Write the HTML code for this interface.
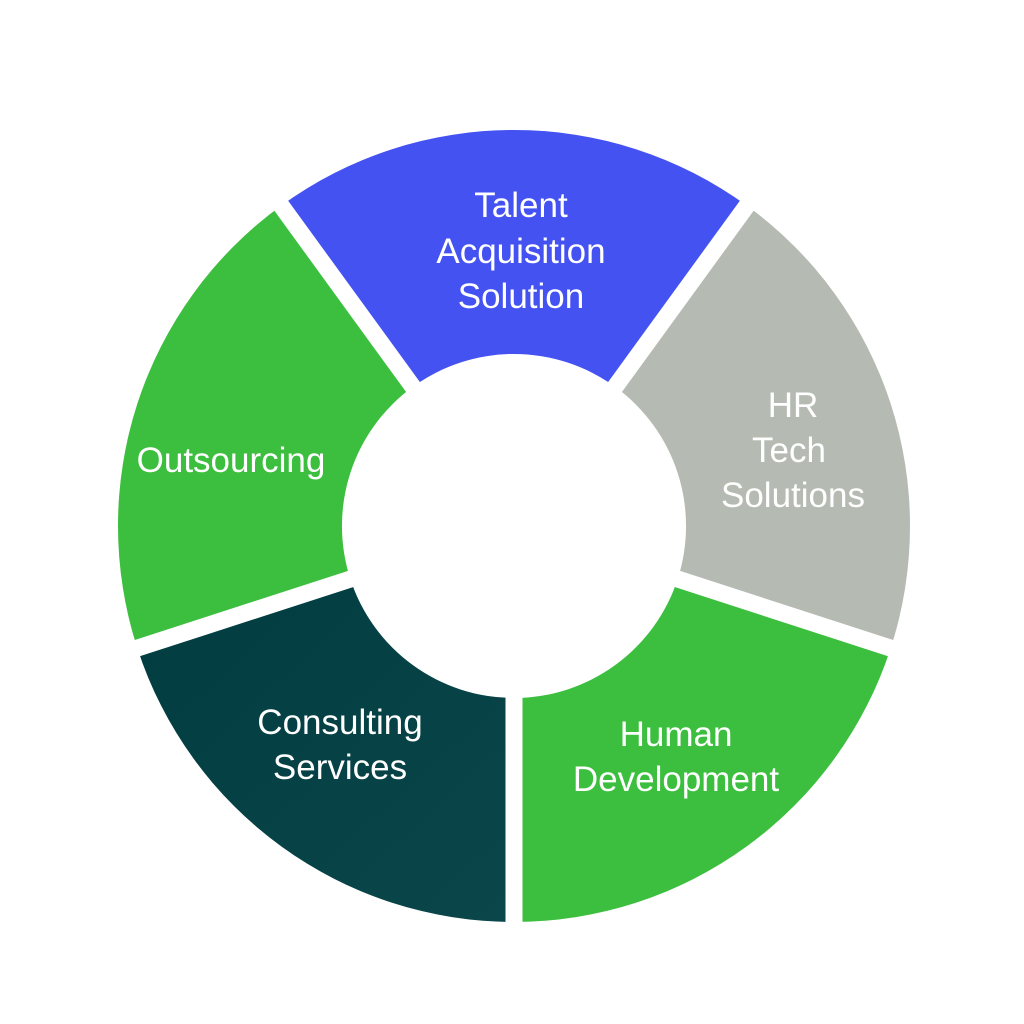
<!DOCTYPE html>
<html><head><style>
html,body{margin:0;padding:0;background:#fff;}
svg{display:block;}
text{font-family:"Liberation Sans",sans-serif;font-size:35px;fill:#fff;text-anchor:middle;}
</style></head><body>
<svg width="1024" height="1024" viewBox="0 0 1024 1024">
<defs>
<linearGradient id="dk" x1="0" y1="0" x2="1" y2="1">
<stop offset="0" stop-color="#013d40"/><stop offset="1" stop-color="#0a464a"/>
</linearGradient>
</defs>
<g transform="translate(514,526)">
<path d="M -232.8 -320.4 A 396 396 0 0 1 232.8 -320.4 L 101.1 -139.2 A 172 172 0 0 0 -101.1 -139.2 Z" fill="#4452f2"/>
<path d="M 232.8 -320.4 A 396 396 0 0 1 376.6 122.4 L 163.6 53.2 A 172 172 0 0 0 101.1 -139.2 Z" fill="#b5bab2"/>
<path d="M 376.6 122.4 A 396 396 0 0 1 0 396 L 0 172 A 172 172 0 0 0 163.6 53.2 Z" fill="#3cbf3f"/>
<path d="M 0 396 A 396 396 0 0 1 -376.6 122.4 L -163.6 53.2 A 172 172 0 0 0 0 172 Z" fill="url(#dk)"/>
<path d="M -376.6 122.4 A 396 396 0 0 1 -232.8 -320.4 L -101.1 -139.2 A 172 172 0 0 0 -163.6 53.2 Z" fill="#3cbf3f"/>
<g stroke="#fff" stroke-width="17">
<line x1="0" y1="0" x2="-250" y2="-344"/>
<line x1="0" y1="0" x2="250" y2="-344"/>
<line x1="0" y1="0" x2="404" y2="131"/>
<line x1="0" y1="0" x2="0" y2="420"/>
<line x1="0" y1="0" x2="-404" y2="131"/>
</g>
</g>
<text x="521" y="217">Talent</text>
<text x="521" y="263">Acquisition</text>
<text x="521" y="308">Solution</text>
<text x="793" y="417">HR</text>
<text x="789" y="462">Tech</text>
<text x="793" y="507">Solutions</text>
<text x="231" y="472">Outsourcing</text>
<text x="340" y="734">Consulting</text>
<text x="340" y="779">Services</text>
<text x="676" y="746">Human</text>
<text x="676" y="791">Development</text>
</svg>
</body></html>
